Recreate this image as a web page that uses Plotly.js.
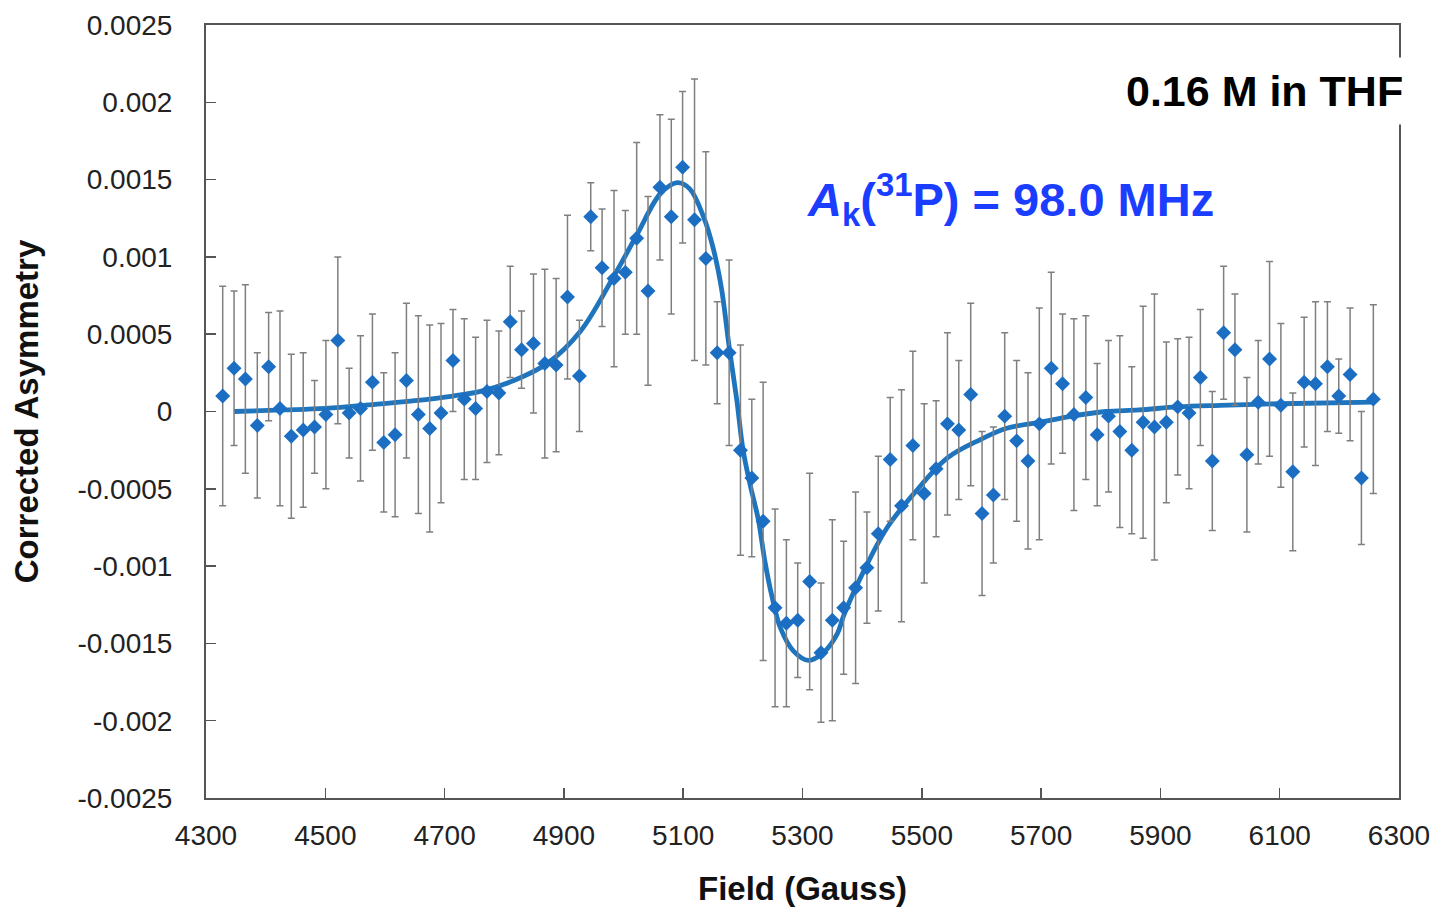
<!DOCTYPE html>
<html>
<head>
<meta charset="utf-8">
<script src="https://cdn.plot.ly/plotly-3.0.1.min.js"></script>
<style>
  html, body { margin: 0; padding: 0; background: #fff; }
  #chart { width: 1435px; height: 907px; }
</style>
</head>
<body>
<div id="chart"></div>
<script>
// Measured data points (Field in Gauss)
const field = [
  4328, 4347, 4366, 4386, 4405, 4424, 4443, 4463, 4482, 4501,
  4521, 4540, 4559, 4579, 4598, 4617, 4636, 4656, 4675, 4694,
  4714, 4733, 4752, 4771, 4791, 4810, 4829, 4849, 4868, 4887,
  4906, 4926, 4945, 4964, 4984, 5003, 5022, 5041, 5061, 5080,
  5099, 5119, 5138, 5157, 5177, 5196, 5215, 5234, 5254, 5273,
  5292, 5312, 5331, 5350, 5369, 5389, 5408, 5427, 5447, 5466,
  5485, 5504, 5524, 5543, 5562, 5582, 5601, 5620, 5639, 5659,
  5678, 5697, 5717, 5736, 5755, 5775, 5794, 5813, 5832, 5852,
  5871, 5890, 5910, 5929, 5948, 5967, 5987, 6006, 6025, 6045,
  6064, 6083, 6102, 6122, 6141, 6160, 6180, 6199, 6218, 6237,
  6257
];
const asym = [
  0.00010, 0.00028, 0.00021, -0.00009, 0.00029, 0.00002, -0.00016, -0.00012, -0.00010, -0.00002,
  0.00046, -0.00001, 0.00002, 0.00019, -0.00020, -0.00015, 0.00020, -0.00002, -0.00011, -0.00001,
  0.00033, 0.00008, 0.00002, 0.00013, 0.00012, 0.00058, 0.00040, 0.00044, 0.00031, 0.00030,
  0.00074, 0.00023, 0.00126, 0.00093, 0.00086, 0.00090, 0.00112, 0.00078, 0.00145, 0.00126,
  0.00158, 0.00124, 0.00099, 0.00038, 0.00038, -0.00025, -0.00043, -0.00071, -0.00127, -0.00137,
  -0.00135, -0.00110, -0.00156, -0.00135, -0.00127, -0.00114, -0.00101, -0.00079, -0.00031, -0.00061,
  -0.00022, -0.00053, -0.00037, -0.00008, -0.00012, 0.00011, -0.00066, -0.00054, -0.00003, -0.00019,
  -0.00032, -0.00008, 0.00028, 0.00018, -0.00002, 0.00009, -0.00015, -0.00003, -0.00013, -0.00025,
  -0.00007, -0.00010, -0.00007, 0.00003, -0.00001, 0.00022, -0.00032, 0.00051, 0.00040, -0.00028,
  0.00006, 0.00034, 0.00004, -0.00039, 0.00019, 0.00018, 0.00029, 0.00010, 0.00024, -0.00043,
  0.00008
];
const asymErr = [
  0.00071, 0.00050, 0.00061, 0.00047, 0.00035, 0.00063, 0.00053, 0.00050, 0.00030, 0.00048,
  0.00054, 0.00029, 0.00047, 0.00044, 0.00045, 0.00053, 0.00050, 0.00064, 0.00067, 0.00058,
  0.00033, 0.00052, 0.00046, 0.00046, 0.00040, 0.00036, 0.00025, 0.00045, 0.00061, 0.00056,
  0.00053, 0.00036, 0.00022, 0.00038, 0.00057, 0.00040, 0.00062, 0.00061, 0.00047, 0.00063,
  0.00049, 0.00091, 0.00069, 0.00033, 0.00060, 0.00068, 0.00051, 0.00090, 0.00064, 0.00054,
  0.00037, 0.00070, 0.00045, 0.00065, 0.00043, 0.00062, 0.00036, 0.00050, 0.00040, 0.00075,
  0.00061, 0.00058, 0.00044, 0.00059, 0.00045, 0.00059, 0.00053, 0.00044, 0.00054, 0.00052,
  0.00057, 0.00075, 0.00062, 0.00045, 0.00062, 0.00053, 0.00046, 0.00049, 0.00062, 0.00054,
  0.00075, 0.00086, 0.00052, 0.00044, 0.00049, 0.00044, 0.00045, 0.00043, 0.00036, 0.00050,
  0.00040, 0.00063, 0.00053, 0.00051, 0.00042, 0.00053, 0.00042, 0.00024, 0.00043, 0.00043,
  0.00061
];

// Fitted curve
const fitField = [
  4347, 4430, 4500, 4580, 4650, 4714, 4760, 4816, 4872, 4928,
  4983, 5022, 5062, 5090, 5111, 5134, 5150, 5164, 5177, 5190,
  5200, 5212, 5226, 5237, 5249, 5263, 5285, 5310, 5335, 5358,
  5370, 5408, 5442, 5487, 5543, 5599, 5641, 5697, 5752, 5808,
  5864, 5929, 6000, 6100, 6257
];
const fitAsym = [
  0.0, 0.00001, 0.00002, 0.000045, 0.00007, 0.0001, 0.00013, 0.0002, 0.00031, 0.00052,
  0.00087, 0.00114, 0.00141, 0.00148, 0.00144, 0.00126, 0.00106, 0.0008, 0.00042, 0.00007,
  -0.00024, -0.00047, -0.0007, -0.00097, -0.0012, -0.0014, -0.00155, -0.00161, -0.00156, -0.00144,
  -0.00131, -0.00099, -0.00075, -0.00053, -0.0003, -0.00018, -0.00011, -0.00007, -0.00003, 0.0,
  0.00001, 0.00003, 0.00004, 0.00005, 0.00006
];

// Tick labels
const xTickVals = [4300, 4500, 4700, 4900, 5100, 5300, 5500, 5700, 5900, 6100, 6300];
const yTickVals = [0.0025, 0.002, 0.0015, 0.001, 0.0005, 0, -0.0005, -0.001, -0.0015, -0.002, -0.0025];
const yTickText = ["0.0025", "0.002", "0.0015", "0.001", "0.0005", "0", "-0.0005", "-0.001", "-0.0015", "-0.002", "-0.0025"];

const FONT = "Liberation Sans, Arial, Helvetica, sans-serif";

const traces = [
  {
    x: fitField, y: fitAsym,
    type: "scatter", mode: "lines",
    line: { color: "#1f74be", width: 4.8, shape: "spline", smoothing: 1 },
    hoverinfo: "skip", showlegend: false
  },
  {
    x: field, y: asym,
    type: "scatter", mode: "markers",
    marker: { symbol: "diamond", size: 11.5, color: "#1b6ec2" },
    error_y: { type: "data", array: asymErr, visible: true, color: "#7f7f7f", thickness: 1.5, width: 3.5 },
    showlegend: false
  }
];

const layout = {
  width: 1435, height: 907,
  paper_bgcolor: "#ffffff", plot_bgcolor: "#ffffff",
  margin: { l: 206, r: 36, t: 25, b: 109 },
  font: { family: FONT, color: "#222222" },
  showlegend: false,
  xaxis: {
    range: [4300, 6300], autorange: false,
    tickmode: "array", tickvals: xTickVals,
    ticks: "inside", ticklen: 10, tickwidth: 1.5, tickcolor: "#555555",
    showline: true, linecolor: "#555555", linewidth: 2, mirror: true,
    showgrid: false, zeroline: false,
    tickfont: { size: 28, family: FONT, color: "#222222" },
    ticklabelstandoff: 11,
    title: { text: "<b>Field (Gauss)</b>", font: { size: 33, family: FONT, color: "#111111" }, standoff: 28 },
    automargin: false
  },
  yaxis: {
    range: [-0.0025, 0.0025], autorange: false,
    tickmode: "array", tickvals: yTickVals, ticktext: yTickText,
    ticks: "inside", ticklen: 10, tickwidth: 1.5, tickcolor: "#555555",
    showline: true, linecolor: "#555555", linewidth: 2, mirror: true,
    showgrid: false, zeroline: false,
    tickfont: { size: 28, family: FONT, color: "#222222" },
    ticklabelstandoff: 26,
    title: { text: "<b>Corrected Asymmetry</b>", font: { size: 33, family: FONT, color: "#111111" }, standoff: 29 },
    automargin: false
  },
  annotations: [
    {
      xref: "paper", yref: "paper", x: 1.0117, y: 0.914,
      xanchor: "right", yanchor: "middle",
      text: "<b>0.16 M in THF</b>", showarrow: false,
      font: { size: 43, family: FONT, color: "#000000" },
      bgcolor: "#ffffff", borderpad: 9
    },
    {
      xref: "paper", yref: "paper", x: 0.674, y: 0.774,
      xanchor: "center", yanchor: "middle",
      text: "<b><i>A</i><sub>k</sub>(<sup>31</sup>P) = 98.0 MHz</b>", showarrow: false,
      font: { size: 47, family: FONT, color: "#1a3dff" }
    }
  ]
};

Plotly.newPlot("chart", traces, layout, { displayModeBar: false, staticPlot: true });
</script>
</body>
</html>
